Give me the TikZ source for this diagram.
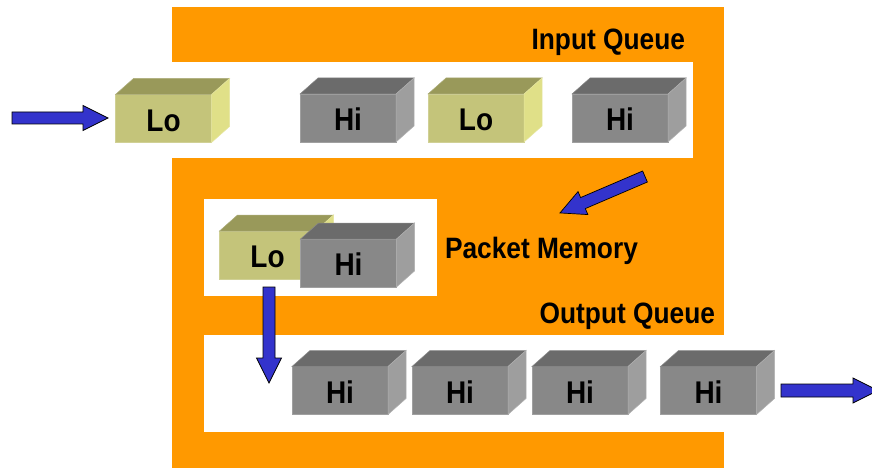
\documentclass[tikz,border=0pt]{standalone}
\usepackage{fontspec}
\setmainfont{Liberation Sans}
\usetikzlibrary{calc}
\definecolor{qorange}{RGB}{255,153,0}
\definecolor{lofront}{RGB}{196,196,122}
\definecolor{lotop}{RGB}{153,153,90}
\definecolor{loside}{RGB}{224,224,136}
\definecolor{hifront}{RGB}{136,136,136}
\definecolor{hitop}{RGB}{107,107,107}
\definecolor{hiside}{RGB}{158,158,158}
\definecolor{arrowblue}{RGB}{51,51,204}
\tikzset{
  front/.style={minimum width=96pt, minimum height=48pt, inner sep=0pt, outer sep=0pt,
    font=\bfseries\fontsize{28}{32}\selectfont, text height=25.5pt, text depth=0pt},
  header/.style={font=\bfseries\fontsize{26.3}{30}\selectfont, inner sep=0pt, outer sep=0pt},
  blockarrowstyle/.style={fill=arrowblue, draw=black, line width=0.7pt, line join=miter},
  stripstyle/.style={fill=white}
}
\newcommand\boxlabel[1]{\scalebox{1}[1.12]{#1}}
\newcommand\pktbox[4]{%
  \node[front, fill=#4front, draw=#4front!80!white, line width=0.5pt] (#1) at (#2) {\boxlabel{#3}};
  \filldraw[fill=#4top, draw=#4top!80!white, line width=0.5pt] (#1.north west) -- ++(18,-16) -- ++(96,0) -- (#1.north east) -- cycle;
  \filldraw[fill=#4side, draw=#4side!80!white, line width=0.5pt] (#1.north east) -- ++(18,-16) -- ++(0,48) -- (#1.south east) -- cycle;
}
\newcommand\blockarrow[5]{%
  \begin{scope}[shift={(#1)}, rotate=#2]
    \draw[blockarrowstyle] (0,-#4) -- (#3-25,-#4) -- (#3-25,-#5) -- (#3,0) -- (#3-25,#5) -- (#3-25,#4) -- (0,#4) -- cycle;
  \end{scope}
}
\begin{document}
\begin{tikzpicture}[x=1pt, y=-1pt]
\useasboundingbox (0,0) rectangle (872,468);
\clip (0,0) rectangle (872,468);
% background regions
\fill[qorange] (172,7) rectangle (724,468);
\fill[stripstyle] (150,62) rectangle (693,158);
\fill[stripstyle] (204,199) rectangle (437,296);
\fill[stripstyle] (204,335) rectangle (760,432);
% headers
\node[header, anchor=base east] (inq) at (685,49.5) {\scalebox{1}[1.12]{Input Queue}};
\node[header, anchor=base west] (pmem) at (445,258) {\scalebox{1}[1.12]{Packet Memory}};
\node[header, anchor=base east] (outq) at (715,323) {\scalebox{1}[1.12]{Output Queue}};
% input queue
\pktbox{in1}{163.5,118.5}{Lo}{lo}
\pktbox{in2}{348,118}{Hi}{hi}
\pktbox{in3}{476,118}{Lo}{lo}
\pktbox{in4}{620,118}{Hi}{hi}
% packet memory
\pktbox{mem1}{267.5,255}{Lo}{lo}
\pktbox{mem2}{348.5,263}{Hi}{hi}
% output queue
\pktbox{out1}{340,390.5}{Hi}{hi}
\pktbox{out2}{460,390.5}{Hi}{hi}
\pktbox{out3}{580,390.5}{Hi}{hi}
\pktbox{out4}{708.5,390.5}{Hi}{hi}
% arrows
\coordinate (arrIn) at (12,118);
\coordinate (arrMem) at (645,176.5);
\coordinate (arrDown) at (269,287);
\coordinate (arrOut) at (781,390.5);
\blockarrow{arrIn}{0}{96}{6}{12.5}
\blockarrow{arrMem}{203.2}{92.5}{6}{12.5}
\blockarrow{arrDown}{-90}{96}{6}{12.5}
\blockarrow{arrOut}{0}{97}{6.5}{12.5}
\end{tikzpicture}
\end{document}
